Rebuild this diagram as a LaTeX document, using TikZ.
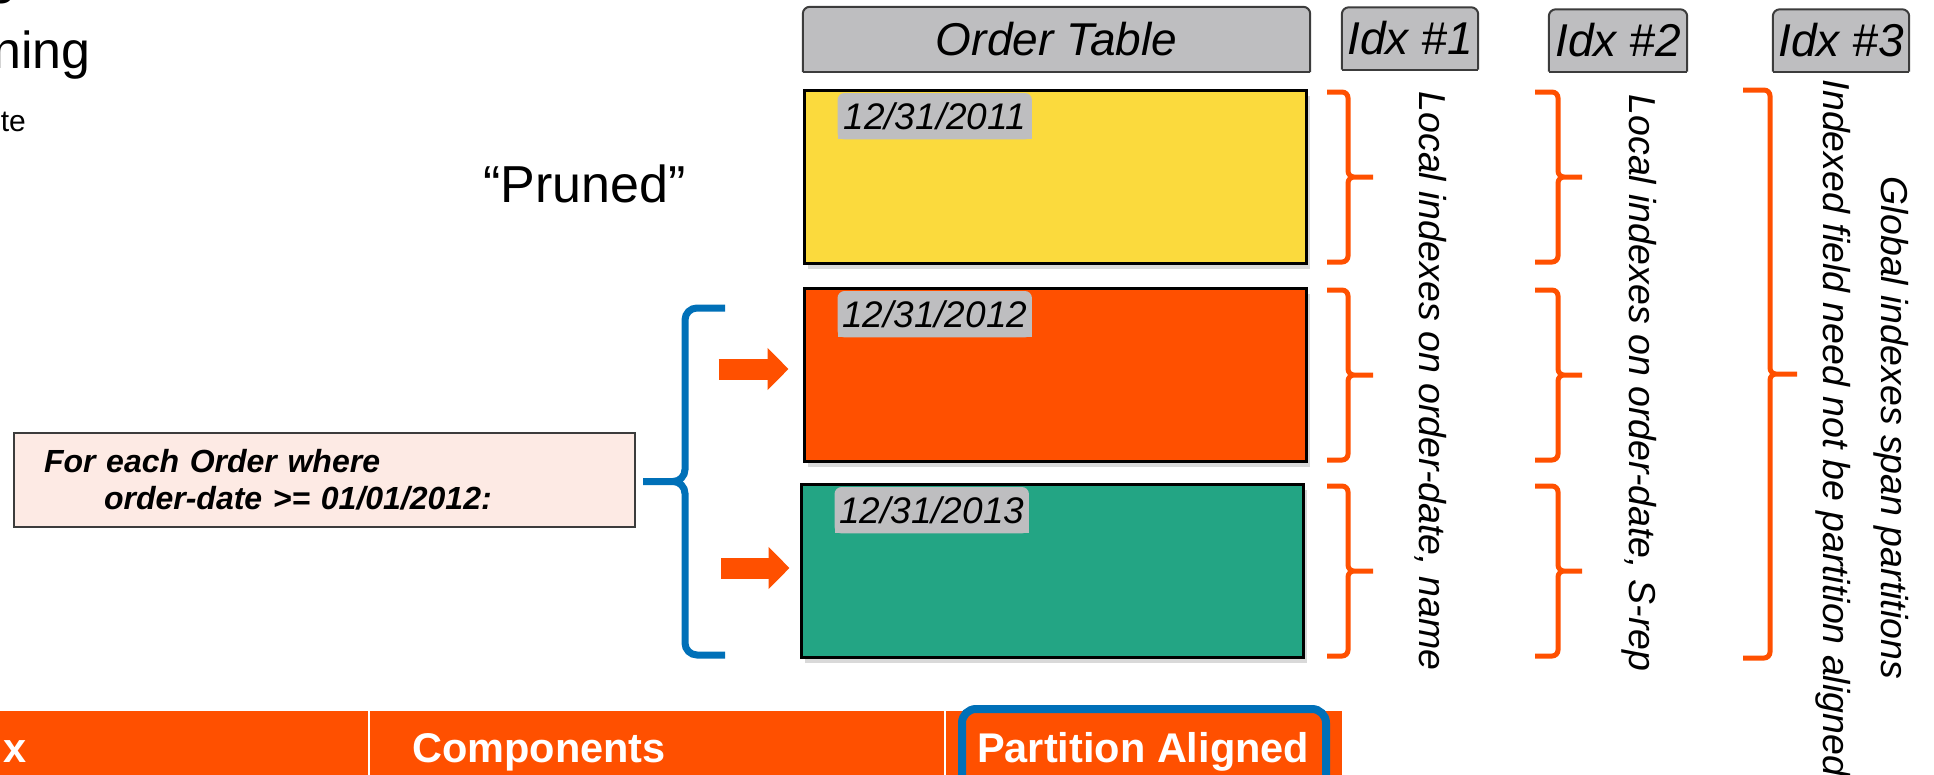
\documentclass[tikz,border=0pt]{standalone}
\usepackage{fontspec}
\setmainfont{Liberation Sans}
\usetikzlibrary{arrows.meta,positioning,shadows,backgrounds,calc}
\definecolor{partyellow}{RGB}{251,218,61}
\definecolor{partorange}{RGB}{255,80,0}
\definecolor{partgreen}{RGB}{35,165,132}
\definecolor{hdrgray}{RGB}{190,190,192}
\definecolor{hdredge}{RGB}{60,60,60}
\definecolor{bracketblue}{RGB}{0,112,184}
\definecolor{notepink}{RGB}{253,234,228}

% gray box with only the top corners rounded, drawn behind node #1
\newcommand{\topround}[3]{%
  \fill[#2, rounded corners=7pt] (#1.south west) rectangle (#1.north east);
  \fill[#2] (#1.south west) rectangle (#1.east);
  \draw[#3, rounded corners=7pt] (#1.south west) |- (#1.north) -| (#1.south east);
  \draw[#3] (#1.south west) -- (#1.south east);
}

\begin{document}
\begin{tikzpicture}[x=1pt, y=-1pt, >=Latex,
    part/.style={draw=black, line width=3pt, minimum width=502pt, minimum height=173pt,
      drop shadow={shadow xshift=4pt, shadow yshift=-5pt, opacity=.3}},
    hdr/.style={minimum height=62pt, inner sep=0pt, font=\fontsize{46}{52}\selectfont\itshape},
    tab/.style={minimum width=194pt, minimum height=46pt, inner sep=0pt,
      font=\fontsize{37}{42}\selectfont\itshape},
    bracket/.style={partorange, line width=5pt, rounded corners=6pt},
    bluebracket/.style={bracketblue, line width=7pt, rounded corners=12pt},
    blkarrow/.style={partorange, line width=21pt, -{Triangle[length=21pt, width=41pt]}},
    vtext/.style={rotate=-90, inner sep=0pt, font=\fontsize{37.5}{58}\selectfont\itshape},
    cell/.style={anchor=base west, inner sep=0pt, text=white,
      font=\fontsize{41.5}{48}\selectfont\bfseries}]
  \useasboundingbox (0,0) rectangle (1934,774);

  % partitions
  \begin{scope}[on background layer]
    \node[part, fill=partyellow] (yel) at (1055,177) {};
    \node[part, fill=partorange, below=22pt of yel] (ora) {};
    \node[part, fill=partgreen, below=20pt of ora, xshift=-3pt] (grn) {};
  \end{scope}

  % headers
  \node[hdr, minimum width=507pt, minimum height=65pt] (tbl) at (1056.5,39.5) {Order Table};
  \node[hdr, minimum width=136pt] (ix1) at (1410,38.5) {Idx \#1};
  \node[hdr, minimum width=138pt] (ix2) at (1618,40.5) {Idx \#2};
  \node[hdr, minimum width=136pt] (ix3) at (1841,40.5) {Idx \#3};

  \foreach \p/\d [count=\i] in {yel/2011, ora/2012, grn/2013}
    \node[tab, anchor=north west] (d\i) at ([shift={(35pt,-4pt)}]\p.north west) {12/31/\d};

  \begin{scope}[on background layer]
    \foreach \n in {tbl,ix1,ix2,ix3} {\topround{\n}{hdrgray}{hdredge, line width=2pt}}
    \foreach \n in {d1,d2,d3} {\topround{\n}{hdrgray}{draw=none}}
  \end{scope}

  % local index brackets
  \foreach \p in {yel,ora,grn} {
    \path ([yshift=-3pt]\p.north) coordinate (bt) (\p.center) coordinate (bm)
          ([yshift=3pt]\p.south) coordinate (bb);
    \foreach \xa/\xv/\xt in {1327/1348/1373, 1535/1558/1582}
      \draw[bracket] (\xa,0 |- bt) -| (\xv,0 |- bm) -- (\xt,0 |- bm)
                     (\xt,0 |- bm) -- (\xv,0 |- bm) |- (\xa,0 |- bb);
  }
  % global index bracket
  \path ([yshift=-1pt]yel.north) coordinate (gt) ([yshift=1pt]grn.south) coordinate (gb)
        ($(gt)!.5!(gb)$) coordinate (gm);
  \draw[bracket] (1743,0 |- gt) -| (1770,0 |- gm) -- (1797,0 |- gm)
                 (1797,0 |- gm) -- (1770,0 |- gm) |- (1743,0 |- gb);

  \node[vtext] (loc1) at (1431,381) {Local indexes on order-date, name};
  \node[vtext] (loc2) at (1639,383) {Local indexes on order-date, S-rep};
  \node[vtext, align=center] (glob) at (1862,428)
    {Global indexes span partitions\\Indexed field need not be partition aligned};

  % query
  \node[draw=hdredge, line width=1.2pt, fill=notepink, minimum height=94pt,
        text width=561pt, inner xsep=30pt, align=left,
        font=\fontsize{32}{37}\selectfont\bfseries\itshape] (cond) at (324.5,480)
    {For each Order where\\\hspace*{60pt}order-date >= 01/01/2012:};

  \path ([yshift=-21pt]ora.north) coordinate (qt) ([yshift=4pt]grn.south) coordinate (qb)
        ($(qt)!.5!(qb)$) coordinate (qm);
  \draw[bluebracket] (725,0 |- qt) -| (685,0 |- qm) -- (643,0 |- qm)
                     (643,0 |- qm) -- (685,0 |- qm) |- (725,0 |- qb);

  \coordinate (a1) at ([xshift=-84pt,yshift=6pt]ora.west);
  \coordinate (a2) at ([xshift=-78.5pt,yshift=3pt]grn.west);
  \draw[blkarrow, shorten >=14pt] (a1) -- (a1 -| ora.west);
  \draw[blkarrow, shorten >=10pt] (a2) -- (a2 -| grn.west);

  \node[anchor=base, inner sep=0pt, font=\fontsize{52}{60}\selectfont] (prn) at (584.5,202) {“Pruned”};

  % cut-off title text
  \node[anchor=base east, inner sep=0pt, font=\fontsize{52}{60}\selectfont] (frag) at (16,3) {e};
  \node[anchor=base east, inner sep=0pt, font=\fontsize{52}{60}\selectfont] (ttl) at (91,68) {ning};
  \node[anchor=base east, inner sep=0pt, font=\fontsize{30}{36}\selectfont] (sub) at (26,131) {te};

  % table header row
  \fill[partorange] (0,711) rectangle (1342,780);
  \draw[white, line width=2.5pt] (369,711) -- (369,780) (945,711) -- (945,780);
  \node[cell] (c1) at (3,762) {x};
  \node[cell] (c2) at (412,762) {Components};
  \node[cell] (c3) at (977,762) {Partition Aligned};
  \draw[bracketblue, line width=8pt, rounded corners=14pt] (962,709) rectangle (1326,790);
\end{tikzpicture}
\end{document}
